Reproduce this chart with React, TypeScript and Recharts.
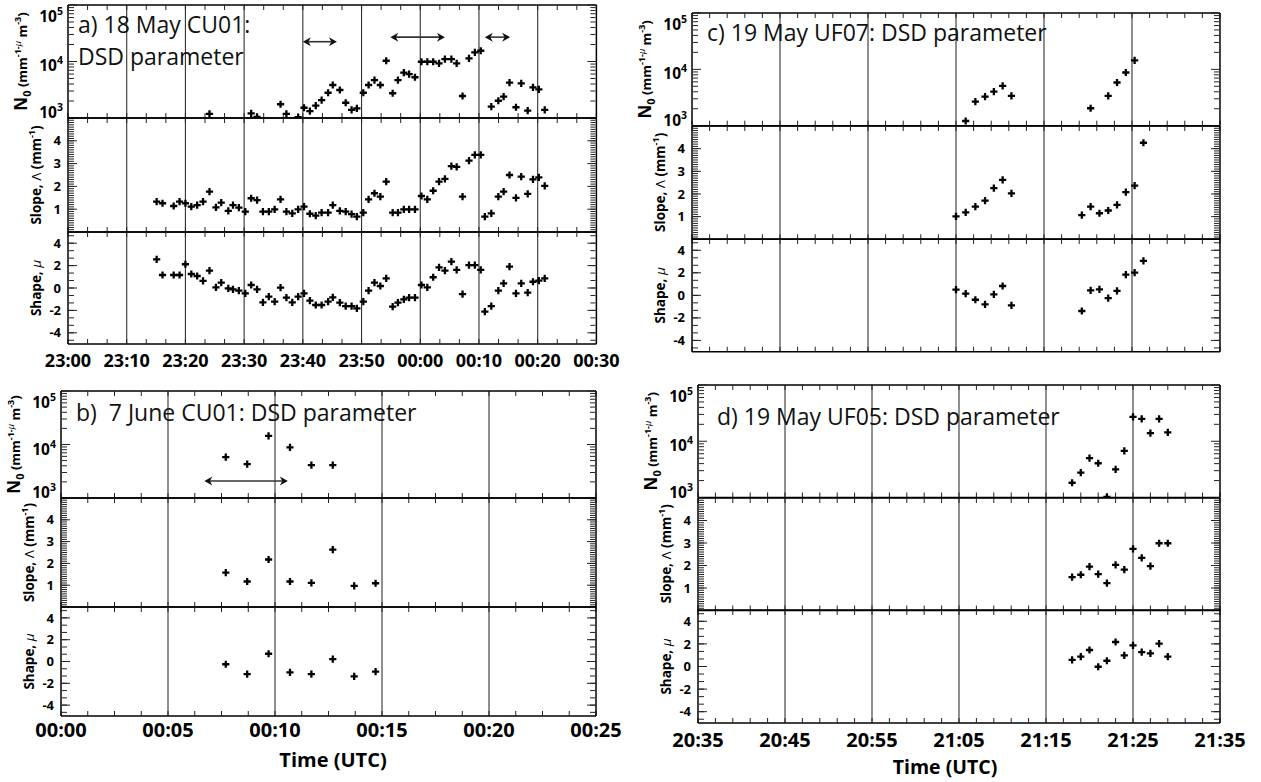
import React from 'react'
import { ScatterChart, Scatter, XAxis, YAxis, ReferenceLine } from 'recharts'

const FONT = '"Open Sans", "DejaVu Sans", Arial, sans-serif'

// a) 18 May CU01 — minutes after 23:00
const timeA = [15.1, 16.1, 18.0, 19.0, 20.0, 21.0, 22.0, 23.0, 24.1, 25.2, 26.1, 27.3, 28.1, 29.1, 30.2, 31.2, 32.2, 33.2, 34.2, 35.2, 36.2, 37.2, 38.2, 39.2, 40.2, 41.2, 42.2, 43.2, 44.3, 45.1, 46.3, 47.3, 48.3, 49.2, 50.3, 51.2, 52.2, 53.2, 54.2, 55.3, 56.2, 57.2, 58.1, 59.1, 60.2, 61.2, 62.2, 63.2, 64.2, 65.3, 66.2, 67.2, 68.3, 69.3, 70.3, 71.0, 72.1, 73.3, 74.2, 75.2, 76.3, 77.2, 78.3, 79.2, 80.2, 81.2]
const n0A = [null, null, null, null, null, null, null, null, 1180, null, null, null, null, null, null, 1210, 1050, null, null, null, 1750, 1180, null, 1040, 1520, 1320, 1650, 2080, 2800, 3840, 3130, 1860, 1390, 1480, 2800, 3840, 4700, 3840, 10300, 2740, 4700, 6340, 6000, 5260, 9900, 9900, 9900, 9300, 11000, 11000, 9300, 2450, 11400, 14500, 15500, null, 1590, 2020, 2380, 4220, 1550, 4110, 1350, 3490, 3220, 1390]
const slopeA = [1.33, 1.26, 1.14, 1.33, 1.26, 1.11, 1.18, 1.33, 1.77, 1.08, 1.29, 0.93, 1.18, 1.07, 0.89, 1.48, 1.40, 0.89, 0.89, 0.99, 1.43, 0.89, 0.82, 0.99, 1.11, 0.80, 0.72, 0.85, 0.85, 1.18, 0.93, 0.89, 0.78, 0.67, 0.85, 1.43, 1.70, 1.55, 2.21, 0.85, 0.85, 0.99, 0.99, 0.99, 1.58, 1.43, 1.81, 2.21, 2.33, 2.89, 2.86, 1.55, 3.13, 3.38, 3.38, 0.67, 0.82, 1.55, 1.77, 2.50, 1.50, 2.43, 1.67, 2.31, 2.40, 2.02]
const shapeA = [2.56, 1.16, 1.16, 1.16, 2.12, 1.25, 1.07, 0.63, 1.55, 0.06, 0.48, -0.03, -0.12, -0.24, -0.48, 0.27, -0.12, -1.28, -0.77, -1.22, 0.03, -0.86, -1.28, -0.77, -0.48, -1.13, -1.52, -1.52, -1.22, -0.83, -1.31, -1.61, -1.61, -1.82, -1.22, -0.24, 0.48, 0.18, 0.86, -1.67, -1.31, -1.01, -0.86, -0.86, 0.27, 0.06, 0.96, 1.85, 1.55, 2.35, 1.61, -0.54, 2.05, 2.05, 1.61, -2.11, -1.61, -0.24, 0.42, 1.90, -0.48, 0.42, -0.42, 0.56, 0.65, 0.86]
// [from, to, N0 level]
const arrowsA = [[40.0, 45.8, 22400], [54.9, 64.2, 27000], [71.0, 75.3, 27000]]

// b) 7 June CU01 — minutes after 00:00
const timeB = [7.7, 8.7, 9.7, 10.7, 11.7, 12.7, 13.7, 14.7]
const n0B = [5800, 4300, 14500, 8800, 4100, 4100, null, null]
const slopeB = [1.58, 1.17, 2.18, 1.17, 1.11, 2.63, 0.97, 1.09]
const shapeB = [-0.25, -1.15, 0.71, -1.0, -1.15, 0.22, -1.37, -0.93]
const arrowsB = [[6.7, 10.6, 2080]]

// c) 19 May UF07 — minutes after 20:35
const timeC = [30.0, 31.1, 32.2, 33.3, 34.3, 35.3, 36.3, 44.3, 45.3, 46.3, 47.3, 48.3, 49.3, 50.3, 51.3]
const n0C = [null, 1210, 2670, 3280, 4030, 5080, 3380, null, 2040, null, 3380, 5840, 8790, 14400, null]
const slopeC = [1.01, 1.19, 1.44, 1.71, 2.26, 2.62, 2.03, 1.07, 1.44, 1.15, 1.27, 1.52, 2.08, 2.37, 4.26]
const shapeC = [0.50, 0.15, -0.39, -0.80, 0.09, 0.83, -0.89, -1.39, 0.44, 0.53, -0.24, 0.39, 1.84, 2.01, 3.05]

// d) 19 May UF05 — minutes after 20:35
const timeD = [43, 44, 45, 46, 47, 48, 49, 50, 51, 52, 53, 54]
const n0D = [1830, 2770, 5000, 4060, 1030, 3170, 6760, 27100, 24900, 14000, 24900, 14400]
const slopeD = [1.48, 1.59, 1.95, 1.62, 1.22, 2.03, 1.82, 2.74, 2.34, 1.97, 2.99, 2.99]
const shapeD = [0.58, 0.87, 1.46, -0.02, 0.51, 2.17, 0.99, 1.87, 1.28, 1.17, 2.02, 0.87]

const TICKS_A = [0, 10, 20, 30, 40, 50, 60, 70, 80, 90]
const TICKS_B = [0, 5, 10, 15, 20, 25]
const TICKS_CD = [0, 10, 20, 30, 40, 50, 60]

const N0_TICKS = [1000, 10000, 100000]
const SLOPE_TICKS = [1, 2, 3, 4]
const SHAPE_TICKS = [-4, -2, 0, 2, 4]

function steps(from: number, to: number, step: number) {
  const out: number[] = []
  for (let v = from; v <= to + 1e-9; v += step) out.push(Math.round(v * 1000) / 1000)
  return out
}

const N0_MINOR = [2, 3, 4, 5, 6, 7, 8, 9].flatMap(k => [k * 1000, k * 10000])
const SLOPE_MINOR = steps(0.1, 4.9, 0.1)
const SHAPE_MINOR = steps(-14 / 3, 14 / 3, 2 / 3)

const Y_CFG: Record<string, any> = {
  n0: { scale: 'log', domain: [1000, 100000], major: N0_TICKS, minor: N0_MINOR },
  slope: { scale: 'linear', domain: [0, 5], major: SLOPE_TICKS, minor: SLOPE_MINOR },
  shape: { scale: 'linear', domain: [-5, 5], major: SHAPE_TICKS, minor: SHAPE_MINOR },
}

const PANELS = [
  { key: 'a', x0: 68.3, x1: 596.7, ys: [5, 118, 232, 344], domain: [0, 90], major: TICKS_A, minorStep: 10 / 3, base: 23 * 60, times: timeA, n0: n0A, slope: slopeA, shape: shapeA, arrows: arrowsA, xLabel: { size: 18, gap: 10 } },
  { key: 'b', x0: 61.3, x1: 596.3, ys: [391, 498, 607, 716], domain: [0, 25], major: TICKS_B, minorStep: 1.25, base: 0, times: timeB, n0: n0B, slope: slopeB, shape: shapeB, arrows: arrowsB, xLabel: { size: 20, gap: 7 } },
  { key: 'c', x0: 692, x1: 1220, ys: [13, 125.7, 239, 351.7], domain: [0, 60], major: TICKS_CD, minorStep: 2, base: 20 * 60 + 35, times: timeC, n0: n0C, slope: slopeC, shape: shapeC, arrows: [], xLabel: null },
  { key: 'd', x0: 698, x1: 1220, ys: [385, 497.5, 610, 723], domain: [0, 60], major: TICKS_CD, minorStep: 2, base: 20 * 60 + 35, times: timeD, n0: n0D, slope: slopeD, shape: shapeD, arrows: [], xLabel: { size: 20, gap: 10 } },
]

function fmtTime(base: number, m: number) {
  const t = (base + m) % (24 * 60)
  const h = Math.floor(t / 60)
  const mm = Math.round(t % 60)
  return `${String(h).padStart(2, '0')}:${String(mm).padStart(2, '0')}`
}

const Plus = (props: any) => {
  const { cx, cy } = props
  if (typeof cx !== 'number' || typeof cy !== 'number') return <g />
  const r = 3.6
  return <path d={`M${cx - r},${cy}H${cx + r}M${cx},${cy - r}V${cy + r}`} stroke="#000" strokeWidth={2.3} fill="none" />
}

const Empty = () => <g />

const Arrow = (props: any) => {
  const { x1, y1, x2 } = props
  if (typeof x1 !== 'number' || typeof x2 !== 'number') return <g />
  const l = Math.min(x1, x2)
  const r = Math.max(x1, x2)
  const y = y1
  const h = 8, w = 4.5, n = 2.5
  return (
    <g>
      <line x1={l + 4} y1={y} x2={r - 4} y2={y} stroke="#333" strokeWidth={1.6} />
      <path d={`M${l},${y}L${l + h},${y - w}L${l + h - n},${y}L${l + h},${y + w}Z`} fill="#111" />
      <path d={`M${r},${y}L${r - h},${y - w}L${r - h + n},${y}L${r - h},${y + w}Z`} fill="#111" />
    </g>
  )
}

const N0Tick = (props: any) => {
  const { x, y, payload } = props
  const exp = Math.round(Math.log10(payload.value))
  const shift = exp === 5 ? 12 : exp === 4 ? 5 : -5
  return (
    <text x={x} y={y + shift + 5} textAnchor="end" fontFamily={FONT} fontWeight={700} fill="#000">
      <tspan fontSize={15.5}>10</tspan>
      <tspan fontSize={10.5} dy={-7}>{exp}</tspan>
    </text>
  )
}

const LW = 60
const MT = 14
const MB = 14
const MR = 34
const XH = 46

function SubPlot({ p, kind, top, bottom, showX }: any) {
  const cfg = Y_CFG[kind]
  const plotW = p.x1 - p.x0
  const plotH = bottom - top
  const width = LW + plotW + MR
  const height = MT + plotH + (showX ? XH : MB)
  const values = p[kind]
  const data = p.times.map((t: number, i: number) => ({ x: t, y: values[i] })).filter((d: any) => d.y != null)
  const xMinor = steps(p.domain[0], p.domain[1], p.minorStep)
  const inner = p.major.slice(1, -1)
  const frame = { stroke: '#000', strokeWidth: 1.5 }
  const tl = { stroke: '#222', strokeWidth: 1 }
  const yCommon = { type: 'number' as const, dataKey: 'y', scale: cfg.scale, domain: cfg.domain, allowDataOverflow: true, interval: 0 as const }
  const xCommon = { type: 'number' as const, dataKey: 'x', domain: p.domain, allowDataOverflow: true, interval: 0 as const }
  return (
    <div style={{ position: 'absolute', left: p.x0 - LW, top: top - MT }}>
      <ScatterChart width={width} height={height} margin={{ top: MT, right: MR, bottom: showX ? 0 : MB, left: 0 }}>
        {showX && (
          <XAxis
            xAxisId="lbl"
            {...xCommon}
            ticks={p.major}
            height={XH}
            tickSize={0}
            tickMargin={p.xLabel.gap}
            axisLine={false}
            tickLine={false}
            tickFormatter={(v: number) => fmtTime(p.base, v)}
            tick={{ fontSize: p.xLabel.size, fontWeight: 700, fill: '#000', fontFamily: FONT }}
          />
        )}
        {/* frame + inward ticks (labels suppressed with an empty tick renderer) */}
        <XAxis xAxisId="b" {...xCommon} ticks={xMinor} orientation="bottom" mirror height={1} tick={Empty} tickSize={5} axisLine={frame} tickLine={tl} />
        <XAxis xAxisId="t" {...xCommon} ticks={xMinor} orientation="top" mirror height={1} tick={Empty} tickSize={5} axisLine={frame} tickLine={tl} />
        <YAxis
          yAxisId="lbl"
          {...yCommon}
          ticks={cfg.major}
          width={LW}
          tickSize={0}
          tickMargin={kind === 'n0' ? 5 : 7}
          axisLine={false}
          tickLine={false}
          tick={kind === 'n0' ? N0Tick : { fontSize: 13, fontWeight: 700, fill: '#000', fontFamily: FONT }}
        />
        <YAxis yAxisId="lm" {...yCommon} ticks={cfg.major} mirror width={1} tick={Empty} tickSize={9} axisLine={frame} tickLine={tl} />
        <YAxis yAxisId="ln" {...yCommon} ticks={cfg.minor} mirror width={1} tick={Empty} tickSize={5} axisLine={false} tickLine={tl} />
        <YAxis yAxisId="rm" {...yCommon} ticks={cfg.major} orientation="right" mirror width={1} tick={Empty} tickSize={9} axisLine={frame} tickLine={tl} />
        <YAxis yAxisId="rn" {...yCommon} ticks={cfg.minor} orientation="right" mirror width={1} tick={Empty} tickSize={5} axisLine={false} tickLine={tl} />
        {inner.map((v: number) => (
          <ReferenceLine key={`v${v}`} xAxisId="b" yAxisId="lbl" x={v} stroke="#333" strokeWidth={1.1} />
        ))}
        {kind === 'n0' &&
          p.arrows.map((a: number[], i: number) => (
            <ReferenceLine key={`a${i}`} xAxisId="b" yAxisId="lbl" segment={[{ x: a[0], y: a[2] }, { x: a[1], y: a[2] }]} shape={Arrow} />
          ))}
        {/* hidden series so every frame axis is bound to data */}
        {['lm', 'ln', 'rm', 'rn'].map(id => (
          <Scatter key={id} xAxisId="t" yAxisId={id} data={data} shape={Empty} isAnimationActive={false} />
        ))}
        {showX && <Scatter xAxisId="lbl" yAxisId="lbl" data={data} shape={Empty} isAnimationActive={false} />}
        <Scatter xAxisId="b" yAxisId="lbl" data={data} shape={Plus} isAnimationActive={false} />
      </ScatterChart>
    </div>
  )
}

const TITLE_FS = 23

function YTitle({ kind, cx, cy }: { kind: string; cx: number; cy: number }) {
  const bx = cx + 5
  const tr = `translate(${bx} ${cy}) rotate(-90)`
  if (kind === 'n0') {
    return (
      <text transform={tr} textAnchor="middle" fontFamily={FONT} fontWeight={700} fill="#000">
        <tspan fontSize={17}>N</tspan>
        <tspan fontSize={11} dy={4}>0</tspan>
        <tspan fontSize={13} dy={-4}>{'\u00a0(mm'}</tspan>
        <tspan fontSize={9} dy={-6}>-1-</tspan>
        <tspan fontSize={9} fontStyle="italic" fontWeight={400}>μ</tspan>
        <tspan fontSize={13} dy={6}>{'\u00a0m'}</tspan>
        <tspan fontSize={9} dy={-6}>-3</tspan>
        <tspan fontSize={13} dy={6}>)</tspan>
      </text>
    )
  }
  if (kind === 'slope') {
    return (
      <text transform={tr} textAnchor="middle" fontFamily={FONT} fontWeight={700} fontSize={13.5} fill="#000">
        <tspan>{'Slope,\u00a0'}</tspan>
        <tspan fontWeight={400}>Λ</tspan>
        <tspan>{'\u00a0(mm'}</tspan>
        <tspan fontSize={9} dy={-6}>-1</tspan>
        <tspan dy={6}>)</tspan>
      </text>
    )
  }
  return (
    <text transform={tr} textAnchor="middle" fontFamily={FONT} fontWeight={700} fontSize={13.5} fill="#000">
      <tspan>{'Shape,\u00a0'}</tspan>
      <tspan fontWeight={400} fontStyle="italic">μ</tspan>
    </text>
  )
}

const KINDS = ['n0', 'slope', 'shape']

export default function App() {
  return (
    <div style={{ position: 'absolute', left: 0, top: 0, width: 1261, height: 782, overflow: 'hidden', background: '#fff' }}>
      {PANELS.map(p =>
        KINDS.map((k, i) => (
          <SubPlot key={`${p.key}-${k}`} p={p} kind={k} top={p.ys[i]} bottom={p.ys[i + 1]} showX={i === 2 && p.xLabel != null} />
        ))
      )}
      <svg width={1261} height={782} style={{ position: 'absolute', left: 0, top: 0, pointerEvents: 'none' }}>
        <g fontFamily={FONT} fontSize={TITLE_FS} fill="#111">
          <text x={78} y={33}>a) 18 May CU01:</text>
          <text x={78} y={65}>DSD parameter</text>
          <text x={76} y={421}>{'b)\u00a0\u00a07 June CU01: DSD parameter'}</text>
          <text x={707} y={41}>c) 19 May UF07: DSD parameter</text>
          <text x={717} y={425}>d) 19 May UF05: DSD parameter</text>
        </g>
        {PANELS.map(p =>
          KINDS.map((k, i) => (
            <YTitle key={`t-${p.key}-${k}`} kind={k} cx={p.x0 - (k === 'n0' ? 46 : 32)} cy={(p.ys[i] + p.ys[i + 1]) / 2} />
          ))
        )}
        <g fontFamily={FONT} fontWeight={700} fill="#000" textAnchor="middle">
          <text x={333} y={767} fontSize={20}>Time (UTC)</text>
          <text x={945} y={774} fontSize={19.5}>Time (UTC)</text>
        </g>
      </svg>
    </div>
  )
}
